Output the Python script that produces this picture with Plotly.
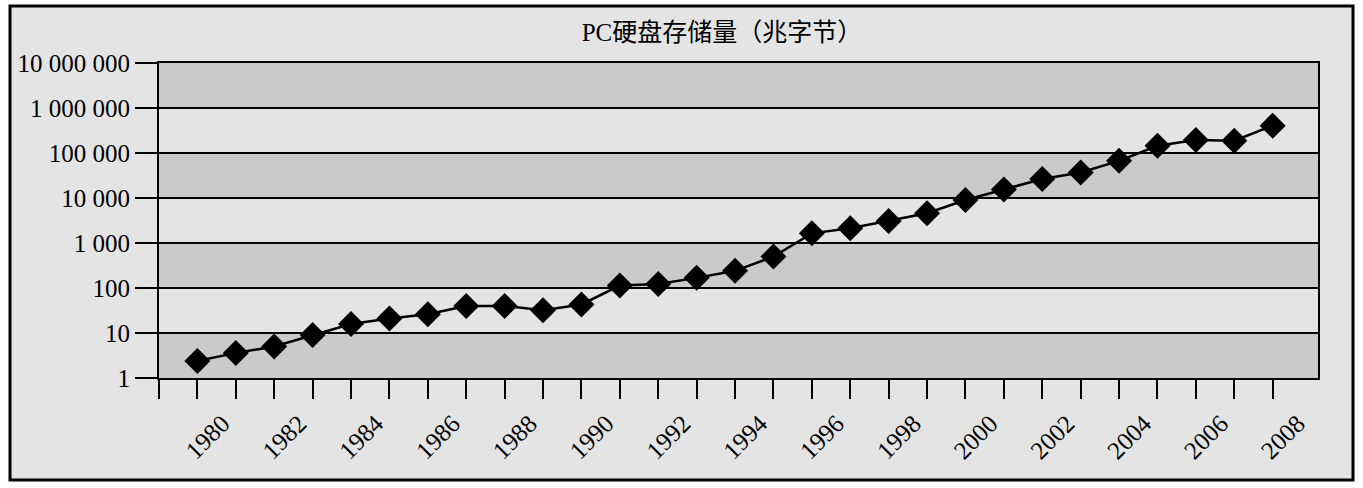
import plotly.graph_objects as go

years = list(range(1980, 2009))
capacity_mb = [2.4, 3.6, 5, 9, 15.8, 21, 26, 40, 40, 32, 43, 113, 123, 168, 241, 500,
               1640, 2130, 3100, 4570, 9000, 15500, 26500, 37000, 67000, 145000, 195000, 187000, 405000]
y_tick_vals = [1, 10, 100, 1000, 10000, 100000, 1000000, 10000000]
y_tick_labels = ["1", "10", "100", "1 000", "10 000", "100 000", "1 000 000", "10 000 000"]
x_tick_vals = list(range(1980, 2009, 2))
x_tick_labels = [str(v) for v in x_tick_vals]
x_minor_vals = list(range(1979, 2009, 2))
title_text = "PC硬盘存储量（兆字节）"

W, H = 1363, 488
L, R, T, B = 159, 45, 63, 110
pw, ph = W - L - R, H - T - B

LIGHT = "#e4e4e4"
DARK = "#cacaca"
FONT = "Liberation Serif, Times New Roman, Noto Sans CJK SC, serif"

fig = go.Figure()
fig.add_trace(go.Scatter(
    x=years, y=capacity_mb, mode="lines+markers",
    line=dict(color="black", width=2.5),
    marker=dict(symbol="diamond", size=20, color="black"),
    showlegend=False, cliponaxis=False,
))

shapes = []
# outer frame
fx0 = (10 - L) / pw
fx1 = (1353 - L) / pw
fy1 = (H - B - 6) / ph
fy0 = (H - B - 480) / ph
shapes.append(dict(type="rect", xref="paper", yref="paper", x0=fx0, x1=fx1, y0=fy0, y1=fy1,
                   fillcolor=LIGHT, line=dict(color="black", width=3), layer="below"))
# dark bands
for i in range(0, len(y_tick_vals) - 1, 2):
    shapes.append(dict(type="rect", xref="paper", yref="y", x0=0, x1=1,
                       y0=y_tick_vals[i], y1=y_tick_vals[i + 1],
                       fillcolor=DARK, line=dict(width=0), layer="below"))

fig.update_layout(
    width=W, height=H,
    margin=dict(l=L, r=R, t=T, b=B, autoexpand=False),
    paper_bgcolor="white",
    plot_bgcolor="rgba(0,0,0,0)",
    shapes=shapes,
    hovermode=False,
    title=dict(text=title_text, x=(722 - L) / pw, xref="paper", xanchor="center",
               y=1 - 32 / H, yanchor="middle", yref="container",
               font=dict(family=FONT, size=25, color="black")),
    font=dict(family=FONT, size=25, color="black"),
)
fig.update_xaxes(
    range=[1979, 2009.18], tickmode="array", tickvals=x_tick_vals, ticktext=x_tick_labels,
    tickangle=-45, ticks="outside", ticklen=19, tickwidth=2, tickcolor="black",
    ticklabelshift=25, ticklabelstandoff=0, automargin=False,
    minor=dict(tickvals=x_minor_vals, ticks="outside", ticklen=19, tickwidth=2, tickcolor="black", showgrid=False),
    showgrid=False, showline=True, linecolor="black", linewidth=2, mirror=True,
    zeroline=False, tickfont=dict(family=FONT, size=25, color="black"),
)
fig.update_yaxes(
    type="log", range=[0, 7], tickmode="array", tickvals=y_tick_vals, ticktext=y_tick_labels,
    ticks="outside", ticklen=22, tickwidth=2, tickcolor="black", automargin=False,
    showgrid=True, gridcolor="black", gridwidth=2,
    showline=True, linecolor="black", linewidth=2, mirror=True,
    zeroline=False, tickfont=dict(family=FONT, size=25, color="black"),
)

fig.write_html("out.html", config={"displayModeBar": False, "staticPlot": True},
               post_script="document.body.style.margin='0';document.body.style.overflow='hidden';")
